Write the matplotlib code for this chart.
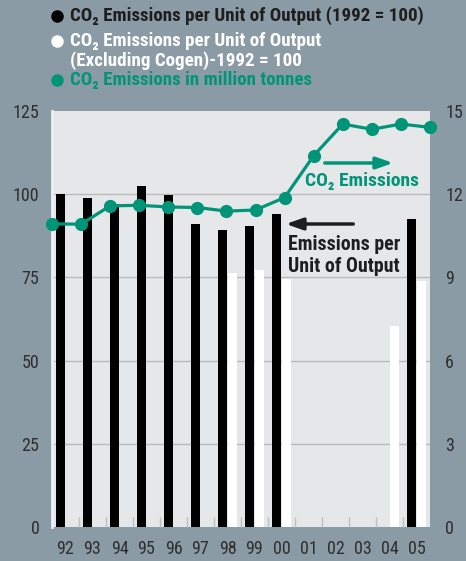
import numpy as np
import matplotlib
matplotlib.use("Agg")
import matplotlib.pyplot as plt
from matplotlib.lines import Line2D
from matplotlib import font_manager as fm

years = ["92", "93", "94", "95", "96", "97", "98", "99", "00", "01", "02", "03", "04", "05"]
intensity = [100.0, 98.9, 97.0, 102.5, 99.9, 91.0, 89.1, 90.3, 94.0, np.nan, np.nan, np.nan, np.nan, 92.5]
intensity_ex_cogen = [np.nan, np.nan, np.nan, np.nan, np.nan, np.nan, 76.4, 77.3, 74.5, np.nan, np.nan, np.nan, 60.4, 74.0]
emissions_mt = [10.93, 10.92, 11.58, 11.60, 11.54, 11.52, 11.39, 11.43, 11.88, 13.39, 14.53, 14.34, 14.53, 14.41]
left_ticks = [0, 25, 50, 75, 100, 125]
right_ticks = [0, 3, 6, 9, 12, 15]

BG = "#8A9BA5"
PLOT_BG = "#E6E7E9"
TEAL = "#009479"
TXT = "#2E2E2E"

available = {f.name for f in fm.fontManager.ttflist}
FONT = [f for f in ["Roboto Condensed", "Archivo Narrow", "Barlow Condensed"] if f in available] + ["DejaVu Sans"]
plt.rcParams["font.family"] = FONT

W, H = 466, 561
fig = plt.figure(figsize=(W / 100, H / 100), dpi=100, facecolor=BG)
L, R, T, B = 52, 430, 111, 527
ax = fig.add_axes([L / W, 1 - B / H, (R - L) / W, (B - T) / H])
ax.set_facecolor(PLOT_BG)

n = len(years)
idx = np.arange(n)
bw = 0.32
ax.bar(idx + 0.5 - 0.19, intensity, width=bw, color="black", zorder=3)
ax.bar(idx + 0.5 + 0.19, intensity_ex_cogen, width=bw, color="white", zorder=3)

ax.set_xlim(0, n)
ax.set_ylim(0, 125)
ax.set_yticks(left_ticks)
ax.set_xticks(idx + 0.5)
ax.set_xticklabels(years)
ax.set_xticks(np.arange(1, n), minor=True)
ax.tick_params(axis="x", which="major", length=0, pad=9, labelsize=13, labelcolor=TXT)
ax.tick_params(axis="x", which="minor", direction="in", length=7, width=1, color="#BDBEC0")
ax.tick_params(axis="y", length=0, pad=9, labelsize=13, labelcolor=TXT)
for y in left_ticks[1:-1]:
    ax.axhline(y, color="#B9BABC", lw=1, zorder=1)
for s in ["top", "right", "bottom"]:
    ax.spines[s].set_visible(False)
ax.spines["left"].set_color("#EEEFF0")
ax.spines["left"].set_linewidth(2)

ax2 = ax.twinx()
ax2.set_ylim(0, 15)
ax2.set_yticks(right_ticks)
ax2.tick_params(axis="y", length=0, pad=11, labelsize=13, labelcolor=TXT)
for s in ax2.spines.values():
    s.set_visible(False)
xline = idx * n / (n - 1)
ax2.plot(xline, emissions_mt, color=TEAL, lw=2.3, marker="o", ms=8.5, zorder=5, clip_on=False)


def fx(x):
    return x / W


def fy(y):
    return 1 - y / H


# legend
legend = [
    ("black", "CO₂ Emissions per Unit of Output (1992 = 100)", 16),
    ("white", "CO₂ Emissions per Unit of Output", 41),
    (None, "(Excluding Cogen)-1992 = 100", 61),
    (TEAL, "CO₂ Emissions in million tonnes", 80),
]
for col, label, y in legend:
    tcol = "white" if col is None else ("#1E1E1E" if col == "black" else col)
    if col is not None:
        fig.add_artist(Line2D([fx(57)], [fy(y)], marker="o", ms=8, color=col, mec=col,
                              transform=fig.transFigure))
    fig.text(fx(70), fy(y), label, color=tcol, fontsize=13.7, fontweight="bold", va="center")

# annotations
ax.annotate("", xy=(fx(396), fy(163)), xytext=(fx(322), fy(163)), xycoords="figure fraction",
            textcoords="figure fraction",
            arrowprops=dict(arrowstyle="-|>,head_length=1.0,head_width=0.35", color=TEAL, lw=2.5),
            zorder=6)
fig.text(fx(305), fy(181), "CO₂ Emissions", color=TEAL, fontsize=14, fontweight="bold",
         va="center", ha="left")
ax.annotate("", xy=(fx(283), fy(224)), xytext=(fx(356), fy(224)), xycoords="figure fraction",
            textcoords="figure fraction",
            arrowprops=dict(arrowstyle="-|>,head_length=1.0,head_width=0.35", color="#1E1E1E", lw=2.5),
            zorder=6)
fig.text(fx(288), fy(244), "Emissions per", color="#1E1E1E", fontsize=14.3,
         fontweight="bold", va="center", ha="left")
fig.text(fx(288), fy(267), "Unit of Output", color="#1E1E1E", fontsize=14.3,
         fontweight="bold", va="center", ha="left")

fig.savefig("out.png", dpi=100, facecolor=BG)
